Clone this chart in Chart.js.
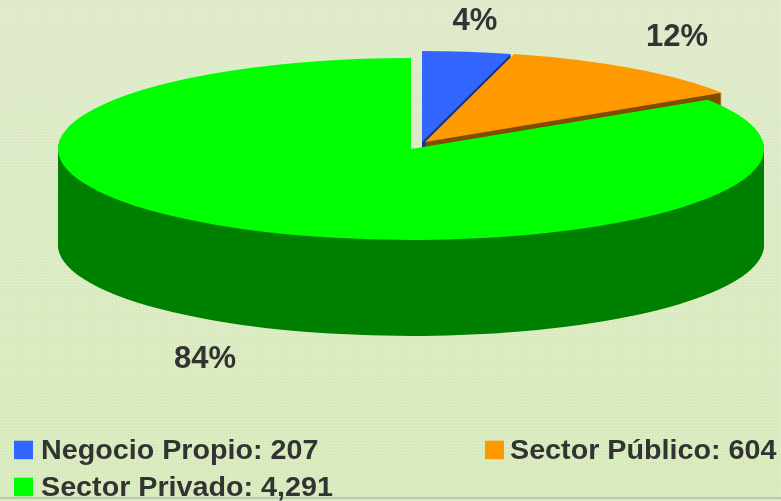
<!DOCTYPE html>
<html>
<head>
<meta charset="utf-8">
<script src="https://cdn.jsdelivr.net/npm/chart.js@4"></script>
<style>
    html, body { margin: 0; padding: 0; }
    body {
        width: 781px; height: 501px; overflow: hidden;
        background-color: #deebc8;
        background-image:
            repeating-linear-gradient(0deg, rgba(255,255,255,.13) 0 1px, rgba(0,0,0,0) 1px 3px),
            repeating-linear-gradient(90deg, rgba(255,255,255,.13) 0 1px, rgba(0,0,0,0) 1px 3px),
            linear-gradient(#dde9c7, #d6e9b8);
    }
    #wrapper { position: relative; width: 781px; height: 501px; }
    #linea { position: absolute; left: 0; top: 497px; width: 781px; height: 2px; background: #bfc4b8; }
    canvas { position: absolute; left: 0; top: 0; }
</style>
</head>
<body>
<div id="wrapper">
    <div id="linea"></div>
    <canvas id="grafico" width="781" height="501"></canvas>
</div>
<script>
"use strict";
const categorie = ["Negocio Propio", "Sector Público", "Sector Privado"];
const valori = [207, 604, 4291];
const percentuali = ["4%", "12%", "84%"];
const colori = ["#3366ff", "#ff9900", "#00ff00"];
const coloriLato = ["#1a3380", "#804d00", "#008000"];

// where each slice sits on the page, in pixels
const rx = 353, ry = 91, spessore = 96;
const centri = [[422, 142], [425, 142], [411, 149]];
const posPerc = [[475, 21], [677, 37], [205, 359]];
const posQuadrati = [[14, 440.7], [485, 440.7], [14, 477.7]];
const posTesti = [[41, 459], [510, 459], [41, 496]];
const largoTesto = 1.063; // the legend text in the picture is stretched

// draws one slice with the library element, squashed to an ellipse
function disegnaArco(ctx, arco, cx, cy, colore) {
    let opzioni = arco.options;
    arco.options = Object.assign({}, opzioni, { backgroundColor: colore });
    ctx.save();
    ctx.translate(cx, cy);
    ctx.scale(rx / arco.outerRadius, ry / arco.outerRadius);
    ctx.translate(-arco.x, -arco.y);
    arco.draw(ctx);
    ctx.restore();
    arco.options = opzioni;
}

const torta3d = {
    id: "torta3d",
    beforeDatasetDraw: function(chart) {
        let ctx = chart.ctx;
        let archi = chart.getDatasetMeta(0).data;
        archi.forEach(function(arco, i) {
            let c = centri[i];
            for (let d = spessore; d > 0; d--)
                disegnaArco(ctx, arco, c[0], c[1] + d, coloriLato[i]);
            disegnaArco(ctx, arco, c[0], c[1], colori[i]);
        });
        return false; // already drawn
    },
    afterDraw: function(chart) {
        let ctx = chart.ctx;
        ctx.save();
        ctx.fillStyle = "#333333";
        ctx.textBaseline = "middle";
        ctx.textAlign = "center";
        ctx.font = "bold 31px 'Liberation Sans'";
        percentuali.forEach(function(testo, i) {
            ctx.fillText(testo, posPerc[i][0], posPerc[i][1]);
        });
        ctx.textAlign = "left";
        ctx.textBaseline = "alphabetic";
        ctx.font = "bold 27px 'Liberation Sans'";
        categorie.forEach(function(nome, i) {
            let q = posQuadrati[i];
            let t = posTesti[i];
            ctx.fillStyle = colori[i];
            ctx.fillRect(q[0], q[1], 19, 18.5);
            ctx.fillStyle = "#333333";
            ctx.save();
            ctx.translate(t[0], t[1]);
            ctx.scale(largoTesto, 1);
            ctx.fillText(nome + ": " + valori[i].toLocaleString("en-US"), 0, 0);
            ctx.restore();
        });
        ctx.restore();
    }
};

let chart = new Chart(document.getElementById("grafico"), {
    type: "pie",
    data: {
        labels: categorie,
        datasets: [{
            data: valori,
            backgroundColor: colori,
            borderWidth: 0
        }]
    },
    options: {
        responsive: false,
        animation: false,
        plugins: {
            legend: { display: false },
            tooltip: { enabled: false }
        }
    },
    plugins: [torta3d]
});
</script>
</body>
</html>
